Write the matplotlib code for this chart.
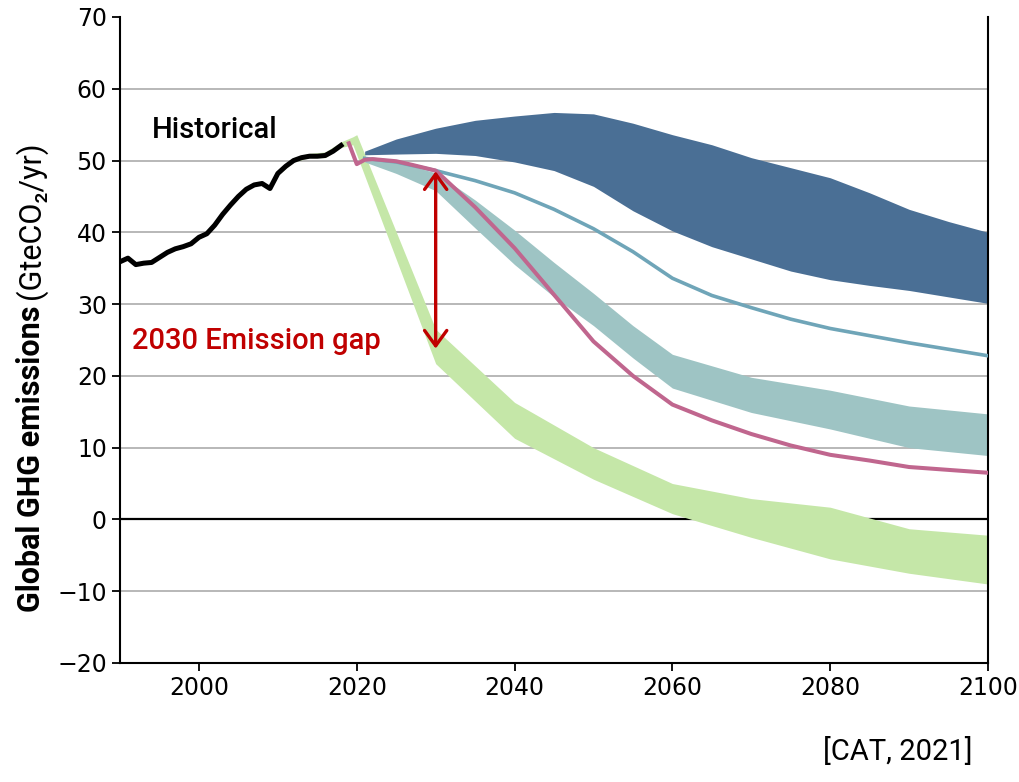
import matplotlib
matplotlib.use("Agg")
import matplotlib.pyplot as plt

# historical emissions (GtCO2e/yr)
hist_years = list(range(1990, 2019))
hist_vals = [35.9, 36.4, 35.5, 35.7, 35.8, 36.5, 37.2, 37.7, 38.0, 38.4,
             39.3, 39.8, 41.0, 42.5, 43.8, 45.0, 46.0, 46.6, 46.8, 46.1,
             48.2, 49.2, 50.0, 50.4, 50.6, 50.6, 50.7, 51.3, 52.1]

# 1.5C compatible range
green_years = [2010, 2012, 2014, 2016, 2018, 2019.5, 2020, 2030, 2040, 2050, 2060, 2070, 2080, 2090, 2100]
green_hi = [48.6, 50.4, 51.0, 51.2, 52.6, 53.3, 53.6, 26.5, 16.3, 10.0, 5.0, 2.9, 1.7, -1.3, -2.2]
green_lo = [48.0, 49.8, 50.4, 50.4, 51.8, 52.2, 50.8, 21.7, 11.3, 5.6, 0.8, -2.5, -5.5, -7.5, -9.0]

# current policy range
policy_years = [2021, 2025, 2030, 2035, 2040, 2045, 2050, 2055, 2060, 2065, 2070, 2075, 2080, 2085, 2090, 2095, 2100]
policy_hi = [51.3, 53.0, 54.5, 55.6, 56.2, 56.7, 56.5, 55.2, 53.6, 52.2, 50.4, 49.0, 47.6, 45.5, 43.2, 41.5, 40.0]
policy_lo = [50.8, 50.9, 51.0, 50.7, 49.8, 48.6, 46.4, 43.0, 40.2, 38.0, 36.3, 34.6, 33.4, 32.6, 31.9, 31.0, 30.1]

# pledges and targets
pledge_years = [2021, 2025, 2030, 2035, 2040, 2045, 2050, 2055, 2060, 2065, 2070, 2075, 2080, 2085, 2090, 2095, 2100]
pledge_vals = [50.3, 49.8, 48.6, 47.2, 45.5, 43.2, 40.5, 37.3, 33.6, 31.2, 29.5, 27.9, 26.6, 25.6, 24.6, 23.7, 22.8]

# optimistic target range
target_years = [2021, 2025, 2030, 2035, 2040, 2045, 2050, 2055, 2060, 2070, 2080, 2090, 2100]
target_hi = [50.2, 49.8, 48.3, 44.5, 40.3, 35.8, 31.5, 27.0, 23.0, 19.8, 18.0, 15.8, 14.7]
target_lo = [49.8, 48.2, 45.8, 40.6, 35.5, 31.0, 27.0, 22.5, 18.3, 14.9, 12.6, 10.0, 8.9]

# net zero pathway
nz_years = [2019, 2020, 2021, 2022, 2025, 2027, 2030, 2035, 2040, 2045, 2050, 2055, 2060, 2065, 2070, 2075, 2080, 2085, 2090, 2095, 2100]
nz_vals = [52.4, 49.5, 50.1, 50.2, 49.9, 49.4, 48.6, 43.5, 37.8, 31.3, 24.8, 20.0, 16.0, 13.8, 11.9, 10.3, 9.0, 8.2, 7.3, 6.9, 6.5]

gap_year = 2030
gap_top = 48.5
gap_bottom = 23.8

fig = plt.figure(figsize=(10.19, 7.82), dpi=100)
ax = fig.add_axes([0.1178, 0.1522, 0.8518, 0.8261])

for v in [-10, 10, 20, 30, 40, 50, 60]:
    ax.axhline(v, color="#b8b8b8", lw=1.4, zorder=0)
ax.axhline(0, color="black", lw=1.6, zorder=0.5)

ax.fill_between(green_years, green_lo, green_hi, color="#c5e7a8", lw=0, zorder=1)
ax.fill_between(policy_years, policy_lo, policy_hi, color="#4a6f95", lw=0, zorder=2)
ax.fill_between(target_years, target_lo, target_hi, color="#9ec4c4", lw=0, zorder=2)
ax.plot(pledge_years, pledge_vals, color="#6fa5b8", lw=2.6, zorder=3)
ax.plot(nz_years, nz_vals, color="#c0668e", lw=2.9, zorder=4)
ax.plot(hist_years, hist_vals, color="black", lw=3.6, zorder=5)

ax.annotate("", xy=(gap_year, gap_bottom), xytext=(gap_year, gap_top),
            arrowprops=dict(arrowstyle="<->,head_length=0.55,head_width=0.4",
                            color="#c00000", lw=2.4, mutation_scale=20,
                            shrinkA=0, shrinkB=0),
            zorder=6)

ax.text(1994, 54.2, "Historical", family="Roboto", fontweight="medium",
        fontsize=21, color="black", va="center")
ax.text(1991.5, 24.8, "2030 Emission gap", family="Roboto", fontweight="medium",
        fontsize=21, color="#c00000", va="center")

ax.set_xlim(1990, 2100)
ax.set_ylim(-20, 70)
ax.set_xticks(range(2000, 2101, 20))
ax.set_yticks(range(-20, 71, 10))
ax.set_yticklabels([str(v).replace("-", "\u2212") for v in range(-20, 71, 10)])
ax.tick_params(labelsize=17, length=6, width=1.3, direction="out")
ax.spines["top"].set_visible(False)
for s in ["left", "right", "bottom"]:
    ax.spines[s].set_linewidth(1.5)

t1 = fig.text(0.03, 1 - 612 / 782, "Global GHG emissions", rotation=90,
              family="Roboto", fontweight="bold", fontsize=22,
              ha="center", va="bottom")
ax.annotate("(GteCO\u2082/yr)", xy=(0.5, 1), xycoords=t1,
            xytext=(0, 5), textcoords="offset points",
            rotation=90, family=["Roboto", "DejaVu Sans"], fontsize=22,
            ha="center", va="bottom", annotation_clip=False)

fig.text(0.954, 0.02, "[CAT, 2021]", family="Roboto", fontsize=21,
         ha="right", va="bottom")

fig.savefig("out.png", dpi=100)
